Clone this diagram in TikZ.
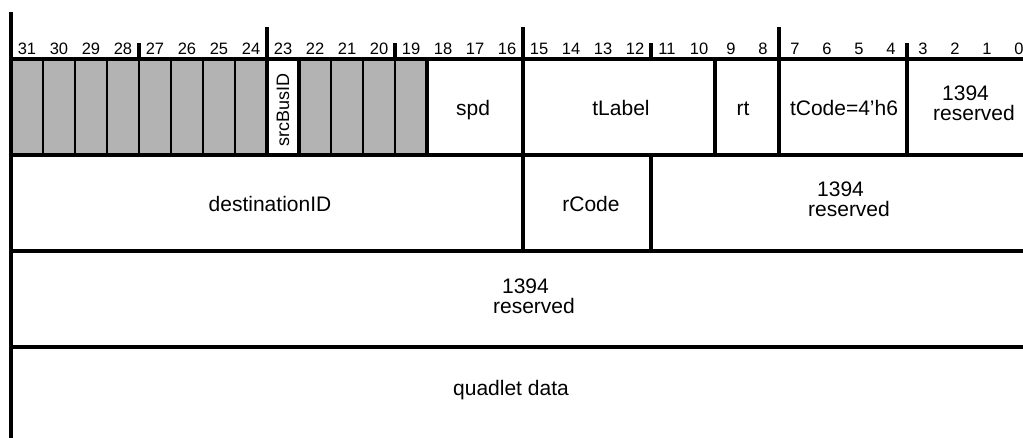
\documentclass[tikz,border=0pt]{standalone}
\usepackage{fontspec}
\setmainfont{Liberation Sans}
\definecolor{pktGrey}{RGB}{179,179,179}
\definecolor{pktLine}{RGB}{0,0,0}
\newcommand{\bitx}[1]{11+(31-#1)*32}
\tikzset{
  pktrule/.style={
    line width=4.5pt,
    draw=pktLine
  },
  pktsep/.style={
    line width=1.5pt,
    draw=pktLine
  },
  pktgrey/.style={
    fill=pktGrey,
    draw=none
  },
  pktbit/.style={
    font=\fontsize{16.5}{18}\selectfont,
    anchor=base,
    inner sep=0pt
  },
  pktfield/.style={
    font=\fontsize{21}{20}\selectfont,
    anchor=base,
    inner sep=0pt
  },
  pktres/.style={
    pktfield,
    anchor=north,
    align=center
  }
}

\begin{document}
\begin{tikzpicture}[x=1pt, y=-1pt]
  \useasboundingbox (0,0) rectangle (1023,437);

  % unused bits
  \fill[pktgrey] ({\bitx{31}},59) rectangle ({\bitx{23}},155);
  \fill[pktgrey] ({\bitx{22}},59) rectangle ({\bitx{18}},155);
  \foreach \b in {30,29,...,24}
    \draw[pktsep] ({\bitx{\b}},59) -- ({\bitx{\b}},155);
  \foreach \b in {21,20,19}
    \draw[pktsep] ({\bitx{\b}},59) -- ({\bitx{\b}},155);

  % bit numbers
  \foreach \b in {0,...,31}
    \node[pktbit] (b\b) at ({\bitx{\b}+16},54.5) {\b};

  % quadlet rows
  \foreach \y in {59,155,251,347}
    \draw[pktrule] (11,\y) -- (1035,\y);
  \draw[pktrule] (11,12) -- (11,443);
  \foreach \b in {23,15,7}
    \draw[pktrule] ({\bitx{\b}},27) -- ({\bitx{\b}},155);
  \draw[pktrule] ({\bitx{-1}},27) -- ({\bitx{-1}},443);
  \foreach \b in {27,19,11,3}
    \draw[pktrule] ({\bitx{\b}},43) -- ({\bitx{\b}},59);
  \foreach \b in {22,18,9,3}
    \draw[pktrule] ({\bitx{\b}},59) -- ({\bitx{\b}},155);
  \foreach \b in {15,11}
    \draw[pktrule] ({\bitx{\b}},155) -- ({\bitx{\b}},251);

  % field labels
  \node[pktfield, rotate=90, anchor=center, font=\fontsize{18}{18}\selectfont] (srcbus) at (283,110) {srcBusID};
  \node[pktfield] (spd) at (473,115) {spd};
  \node[pktfield] (tlabel) at (621,115) {tLabel};
  \node[pktfield] (rt) at (743,115) {rt};
  \node[pktfield] (tcode) at (844,115) {tCode=4’h6};
  \node[pktres] (res1) at (974,86) {1394\hspace*{17pt}\\reserved};
  \node[pktfield] (destid) at (270,211.5) {destinationID};
  \node[pktfield] (rcode) at (591,211.5) {rCode};
  \node[pktres] (res2) at (849,181.7) {1394\hspace*{17pt}\\reserved};
  \node[pktres] (res3) at (534,278.3) {1394\hspace*{17pt}\\reserved};
  \node[pktfield] (qdata) at (511,395) {quadlet data};
\end{tikzpicture}
\end{document}
